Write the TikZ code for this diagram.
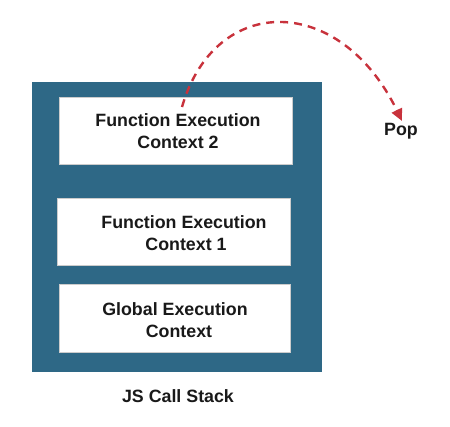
\documentclass[tikz,border=0pt]{standalone}
\usepackage{fontspec}
\setmainfont{Liberation Sans}
\usetikzlibrary{arrows.meta}
\definecolor{stackblue}{HTML}{2E6886}
\definecolor{popred}{HTML}{C8323C}
\begin{document}
\begin{tikzpicture}[x=1pt,y=-1pt,
  ctxbox/.style={fill=white,draw=gray!40,line width=0.5pt},
  lbl/.style={font=\bfseries\fontsize{17.8}{21.5}\selectfont,align=center,text=black!90},
  poparrow/.style={draw=popred,line width=2.4pt,dash pattern=on 8pt off 6pt,-{Triangle[length=12pt,width=11pt]}}]
\useasboundingbox (0,0) rectangle (450,427);
\fill[stackblue] (32,82) rectangle (322,372);
\filldraw[ctxbox] (59,97) rectangle (292,164);
\filldraw[ctxbox] (57,198) rectangle (290,265);
\filldraw[ctxbox] (59,284) rectangle (290,352);
\node[lbl] (fec2) at (178,131) {Function Execution\\Context 2};
\node[lbl] (fec1) at (184,233) {Function Execution\\\hspace*{4pt}Context 1};
\node[lbl] (gec) at (175,320) {Global Execution\\\hspace*{8pt}Context};
\node[lbl] (js) at (178,396) {JS Call Stack};
\node[lbl] (pop) at (401,131) {Pop};
\coordinate (start) at (182,107);
\coordinate (tip) at (402,121);
\draw[poparrow] (start) .. controls (215,-7) and (340,-7) .. (tip);
\end{tikzpicture}
\end{document}
